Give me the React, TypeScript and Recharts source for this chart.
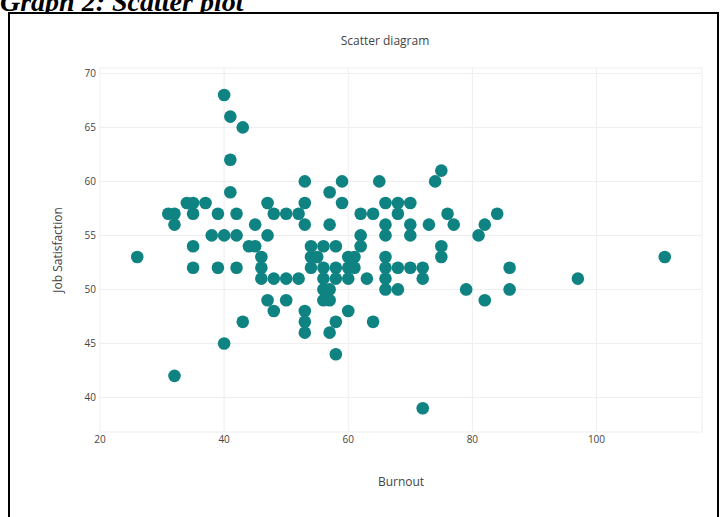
import { ScatterChart, Scatter, XAxis, YAxis, CartesianGrid } from "recharts";

// Burnout (x) and Job Satisfaction (y)
const burnout = [
  40, 41, 43, 41, 75,
  53, 59, 65, 74,
  41, 57,
  34, 35, 37, 47, 53, 59, 66, 68, 70,
  31, 32, 35, 39, 42, 48, 50, 52, 62, 64, 68, 76, 84,
  32, 45, 53, 57, 66, 70, 73, 77, 82,
  38, 40, 42, 47, 62, 66, 70, 81,
  35, 44, 45, 54, 56, 58, 62, 75,
  26, 46, 54, 55, 60, 61, 66, 75, 111,
  35, 39, 42, 46, 54, 56, 58, 60, 61, 66, 68, 70, 72, 86,
  46, 48, 50, 52, 56, 58, 60, 63, 66, 72, 97,
  56, 57, 66, 68, 79, 86,
  47, 50, 56, 57, 82,
  48, 53, 60,
  43, 53, 58, 64,
  53, 57,
  40,
  58,
  32,
  72,
];

const satisfaction = [
  68, 66, 65, 62, 61,
  60, 60, 60, 60,
  59, 59,
  58, 58, 58, 58, 58, 58, 58, 58, 58,
  57, 57, 57, 57, 57, 57, 57, 57, 57, 57, 57, 57, 57,
  56, 56, 56, 56, 56, 56, 56, 56, 56,
  55, 55, 55, 55, 55, 55, 55, 55,
  54, 54, 54, 54, 54, 54, 54, 54,
  53, 53, 53, 53, 53, 53, 53, 53, 53,
  52, 52, 52, 52, 52, 52, 52, 52, 52, 52, 52, 52, 52, 52,
  51, 51, 51, 51, 51, 51, 51, 51, 51, 51, 51,
  50, 50, 50, 50, 50, 50,
  49, 49, 49, 49, 49,
  48, 48, 48,
  47, 47, 47, 47,
  46, 46,
  45,
  44,
  42,
  39,
];

const xTicks = [20, 40, 60, 80, 100];
const yTicks = [40, 45, 50, 55, 60, 65, 70];

const points = burnout.map((b, i) => ({ burnout: b, satisfaction: satisfaction[i] }));

const DOT = "#0f8282";
const TEXT = "#444";

const Dot = (props: any) => (
  <circle cx={props.cx} cy={props.cy} r={6.3} fill={DOT} />
);

export default function App() {
  return (
    <div
      style={{
        position: "fixed",
        left: 0,
        top: 0,
        width: 720,
        height: 517,
        overflow: "hidden",
        background: "#fff",
      }}
    >
      {/* heading is cropped at the top edge, as in the source scan */}
      <div
        style={{
          position: "absolute",
          left: 0,
          top: -12,
          fontFamily: "'Liberation Serif', serif",
          fontWeight: "bold",
          fontStyle: "italic",
          fontSize: 28,
          lineHeight: "28px",
          color: "#000",
          whiteSpace: "nowrap",
        }}
      >
        Graph 2: Scatter plot
      </div>
      <div
        style={{
          position: "absolute",
          left: 8,
          top: 12,
          width: 711,
          height: 520,
          border: "2px solid #000",
          boxSizing: "border-box",
          background: "#fff",
        }}
      />
      <div
        style={{
          position: "absolute",
          left: 0,
          width: 770,
          top: 32,
          textAlign: "center",
          fontFamily: "'Open Sans', sans-serif",
          fontSize: 12,
          color: TEXT,
        }}
      >
        Scatter diagram
      </div>
      <div style={{ position: "absolute", left: 0, top: 0 }}>
        <ScatterChart
          width={720}
          height={517}
          margin={{ top: 68, right: 18, bottom: 25, left: 40 }}
        >
          <CartesianGrid stroke="#eeeeee" strokeWidth={1} />
          <XAxis
            type="number"
            dataKey="burnout"
            domain={[20, 117]}
            ticks={xTicks}
            axisLine={false}
            tickLine={false}
            tickSize={0}
            tickMargin={4}
            height={60}
            tick={{ fontSize: 10, fill: TEXT, fontFamily: "'Open Sans', sans-serif" }}
            label={{
              value: "Burnout",
              position: "insideBottom",
              offset: 6,
              style: { fontSize: 12, fill: TEXT, fontFamily: "'Open Sans', sans-serif" },
            }}
          />
          <YAxis
            type="number"
            dataKey="satisfaction"
            domain={[36.8, 70.5]}
            ticks={yTicks}
            axisLine={false}
            tickLine={false}
            tickSize={0}
            tickMargin={4}
            width={60}
            tick={{ fontSize: 10, fill: TEXT, fontFamily: "'Open Sans', sans-serif" }}
            label={{
              value: "Job Satisfaction",
              angle: -90,
              position: "insideLeft",
              offset: 18,
              style: {
                textAnchor: "middle",
                fontSize: 12,
                fill: TEXT,
                fontFamily: "'Open Sans', sans-serif",
              },
            }}
          />
          <Scatter data={points} shape={Dot} isAnimationActive={false} />
        </ScatterChart>
      </div>
    </div>
  );
}
